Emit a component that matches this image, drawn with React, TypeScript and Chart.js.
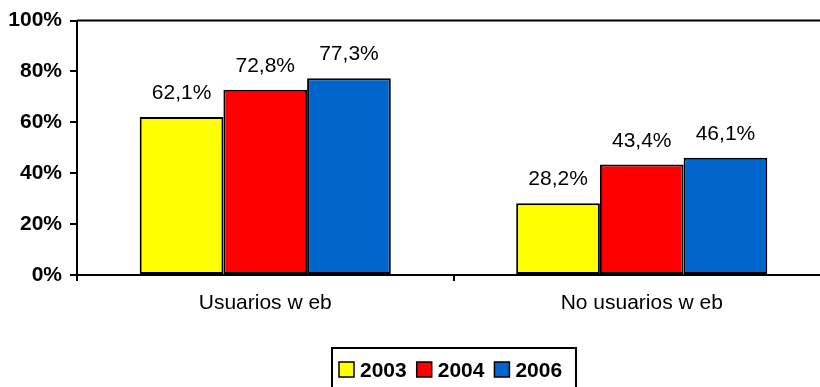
import React, { useEffect, useRef } from "react";
import { Chart, registerables } from "chart.js";

Chart.register(...registerables);

const categories = ["Usuarios w eb", "No usuarios w eb"];
const seriesNames = ["2003", "2004", "2006"];
const values2003 = [62.1, 28.2];
const values2004 = [72.8, 43.4];
const values2006 = [77.3, 46.1];
const seriesColors = ["#FFFF00", "#FF0000", "#0066CC"];
const yTicks = [0, 20, 40, 60, 80, 100];

const FONT = "'Liberation Sans', Arial, sans-serif";

const fmt = (v: number) => v.toFixed(1).replace(".", ",") + "%";

const extrasPlugin = {
  id: "extras",
  afterDraw(chart: any) {
    const ctx = chart.ctx;
    const area = chart.chartArea;
    ctx.save();
    // top frame line
    ctx.strokeStyle = "#000";
    ctx.lineWidth = 2;
    ctx.beginPath();
    ctx.moveTo(area.left, area.top);
    ctx.lineTo(area.right, area.top);
    ctx.stroke();

    // data labels
    ctx.fillStyle = "#000";
    ctx.font = `21px ${FONT}`;
    ctx.textAlign = "center";
    ctx.textBaseline = "alphabetic";
    chart.data.datasets.forEach((ds: any, i: number) => {
      const meta = chart.getDatasetMeta(i);
      meta.data.forEach((bar: any, j: number) => {
        ctx.fillText(fmt(ds.data[j]), bar.x, bar.y - 18);
      });
    });

    // legend
    const lx = 332, ly = 348, lw = 244, lh = 45;
    ctx.lineWidth = 2;
    ctx.strokeStyle = "#000";
    ctx.strokeRect(lx, ly, lw, lh);
    ctx.font = `bold 21px ${FONT}`;
    ctx.textAlign = "left";
    let x = lx + 7;
    chart.data.datasets.forEach((ds: any) => {
      ctx.fillStyle = ds.backgroundColor;
      ctx.fillRect(x, 362, 15, 15);
      ctx.lineWidth = 1.5;
      ctx.strokeStyle = "#000";
      ctx.strokeRect(x, 362, 15, 15);
      ctx.fillStyle = "#000";
      ctx.fillText(ds.label, x + 21, 377);
      x += 21 + ctx.measureText(ds.label).width + 10;
    });
    ctx.restore();
  },
};

export default function App() {
  const ref = useRef<HTMLCanvasElement>(null);
  useEffect(() => {
    const dataSets = [values2003, values2004, values2006];
    const chart = new Chart(ref.current!, {
      type: "bar",
      data: {
        labels: categories,
        datasets: seriesNames.map((name, i) => ({
          label: name,
          data: dataSets[i],
          backgroundColor: seriesColors[i],
          borderColor: "#000",
          borderWidth: 2,
          borderSkipped: false,
          barPercentage: 1,
          categoryPercentage: 0.667,
        })),
      },
      options: {
        animation: false,
        responsive: false,
        devicePixelRatio: 1,
        layout: { padding: { left: 0, right: 2, top: 20, bottom: 0 } },
        plugins: { legend: { display: false }, tooltip: { enabled: false } },
        scales: {
          x: {
            afterFit: (s: any) => {
              s.height = 112;
            },
            grid: {
              offset: true,
              drawOnChartArea: false,
              drawTicks: true,
              tickLength: 6,
              color: "#000",
              lineWidth: 2,
            },
            border: { display: true, color: "#000", width: 2 },
            ticks: {
              color: "#000",
              font: { family: FONT, size: 21 },
              padding: 10,
              maxRotation: 0,
            },
          },
          y: {
            min: 0,
            max: 100,
            afterFit: (s: any) => {
              s.width = 77;
            },
            afterBuildTicks: (s: any) => {
              s.ticks = yTicks.map((v) => ({ value: v }));
            },
            grid: {
              drawOnChartArea: false,
              drawTicks: true,
              tickLength: 7,
              color: "#000",
              lineWidth: 2,
            },
            border: { display: true, color: "#000", width: 2 },
            ticks: {
              color: "#000",
              font: { family: FONT, size: 21, weight: "bold" },
              padding: 8,
              callback: (v: any) => v + "%",
            },
          },
        },
      },
      plugins: [extrasPlugin],
    });
    return () => chart.destroy();
  }, []);
  return (
    <div
      style={{
        position: "fixed",
        left: 0,
        top: 0,
        width: 820,
        height: 387,
        overflow: "hidden",
        background: "#fff",
      }}
    >
      <canvas ref={ref} width={832} height={387} style={{ width: 832, height: 387, display: "block" }} />
    </div>
  );
}
